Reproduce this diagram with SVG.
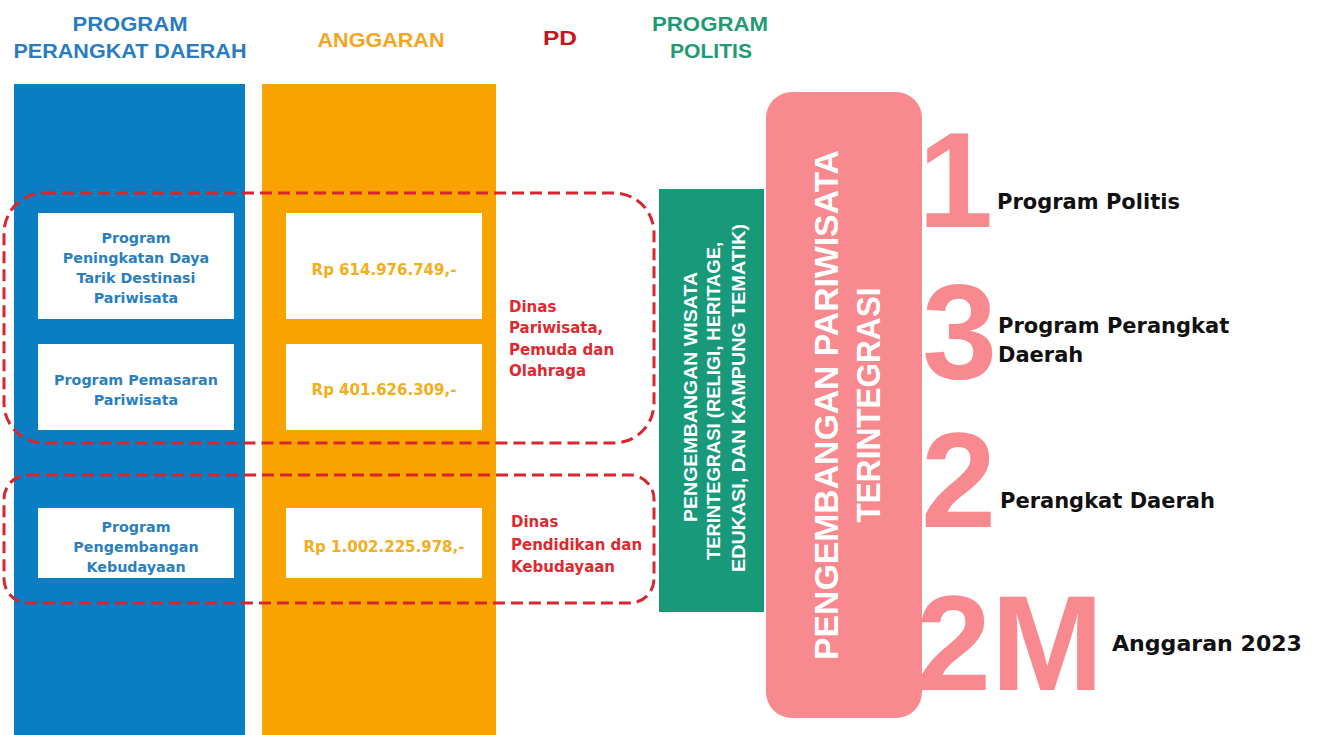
<svg xmlns="http://www.w3.org/2000/svg" width="1317" height="735" viewBox="0 0 1317 735">
<style>
.hdr{font-family:"Liberation Sans",Arial,sans-serif;font-weight:bold;font-size:20px;text-anchor:middle}
.box{fill:#ffffff}
.bt{font-family:"DejaVu Sans","Liberation Sans",sans-serif;font-weight:bold;font-size:14.3px;fill:#2b7fc1;text-anchor:middle}
.ot{font-family:"DejaVu Sans","Liberation Sans",sans-serif;font-weight:bold;font-size:15px;fill:#f2ae1c;text-anchor:middle}
.rt{font-family:"DejaVu Sans","Liberation Sans",sans-serif;font-weight:bold;font-size:15px;fill:#e0282f}
.gt{font-family:"Liberation Sans",Arial,sans-serif;font-weight:bold;font-size:19px;fill:#ffffff;text-anchor:middle}
.pt{font-family:"Liberation Sans",Arial,sans-serif;font-weight:bold;font-size:33px;fill:#ffffff;text-anchor:middle}
.num{font-family:"Liberation Sans",Arial,sans-serif;font-weight:bold;font-size:135px;fill:#f8898f}
.lbl{font-family:"DejaVu Sans","Liberation Sans",sans-serif;font-weight:bold;font-size:21px;fill:#111111}
.dash{fill:none;stroke:#d9262e;stroke-width:3;stroke-dasharray:12 6}
</style>
<rect width="1317" height="735" fill="#ffffff"/>

<g id="headers">
<text class="hdr" x="130" y="31" fill="#2a7bbf" textLength="115" lengthAdjust="spacingAndGlyphs">PROGRAM</text>
<text class="hdr" x="130" y="58" fill="#2a7bbf" textLength="233" lengthAdjust="spacingAndGlyphs">PERANGKAT DAERAH</text>
<text class="hdr" x="381" y="47" fill="#f7a51e" textLength="127" lengthAdjust="spacingAndGlyphs">ANGGARAN</text>
<text class="hdr" x="560" y="45" fill="#c4161c" textLength="34" lengthAdjust="spacingAndGlyphs">PD</text>
<text class="hdr" x="710" y="31" fill="#1f9a73" textLength="116" lengthAdjust="spacingAndGlyphs">PROGRAM</text>
<text class="hdr" x="711" y="58" fill="#1f9a73" textLength="82" lengthAdjust="spacingAndGlyphs">POLITIS</text>
</g>

<g id="col-program">
<rect x="14" y="84" width="231" height="651" fill="#0b7dc3"/>
</g>
<g id="col-anggaran">
<rect x="262" y="84" width="234" height="651" fill="#f9a300"/>
</g>

<g id="prog-1">
<rect class="box" x="38" y="213" width="196" height="106"/>
<text class="bt" x="136" y="243">Program</text>
<text class="bt" x="136" y="263">Peningkatan Daya</text>
<text class="bt" x="136" y="283">Tarik Destinasi</text>
<text class="bt" x="136" y="303">Pariwisata</text>
</g>
<g id="prog-2">
<rect class="box" x="38" y="344" width="196" height="86"/>
<text class="bt" x="136" y="385">Program Pemasaran</text>
<text class="bt" x="136" y="405">Pariwisata</text>
</g>
<g id="prog-3">
<rect class="box" x="38" y="508" width="196" height="70"/>
<text class="bt" x="136" y="532">Program</text>
<text class="bt" x="136" y="552">Pengembangan</text>
<text class="bt" x="136" y="572">Kebudayaan</text>
</g>

<g id="budget-1">
<rect class="box" x="286" y="213" width="196" height="106"/>
<text class="ot" x="384" y="275">Rp 614.976.749,-</text>
</g>
<g id="budget-2">
<rect class="box" x="286" y="344" width="196" height="86"/>
<text class="ot" x="384" y="395">Rp 401.626.309,-</text>
</g>
<g id="budget-3">
<rect class="box" x="286" y="508" width="196" height="70"/>
<text class="ot" x="384" y="552">Rp 1.002.225.978,-</text>
</g>

<g id="pd-1">
<text class="rt" x="509" y="312">Dinas</text>
<text class="rt" x="509" y="333">Pariwisata,</text>
<text class="rt" x="509" y="355">Pemuda dan</text>
<text class="rt" x="509" y="376">Olahraga</text>
</g>
<g id="pd-2">
<text class="rt" x="511" y="527">Dinas</text>
<text class="rt" x="511" y="550">Pendidikan dan</text>
<text class="rt" x="511" y="572">Kebudayaan</text>
</g>

<g id="connectors">
<rect class="dash" x="4" y="193" width="650" height="250" rx="40" ry="40"/>
<rect class="dash" x="4" y="475" width="650" height="128" rx="24" ry="24"/>
</g>

<g id="program-politis">
<rect x="659" y="189" width="105" height="423" fill="#18997a"/>
<text class="gt" transform="translate(697,397) rotate(-90)" textLength="250" lengthAdjust="spacingAndGlyphs">PENGEMBANGAN WISATA</text>
<text class="gt" transform="translate(720,401) rotate(-90)" textLength="318" lengthAdjust="spacingAndGlyphs">TERINTEGRASI (RELIGI, HERITAGE,</text>
<text class="gt" transform="translate(745,398) rotate(-90)" textLength="348" lengthAdjust="spacingAndGlyphs">EDUKASI, DAN KAMPUNG TEMATIK)</text>
</g>

<g id="summary">
<text class="num" x="918" y="227">1</text>
<text class="num" x="922" y="378">3</text>
<text class="num" x="921" y="527">2</text>
<text class="num" x="916" y="690">2M</text>
<rect x="766" y="92" width="156" height="626" rx="26" ry="26" fill="#f8898f"/>
<text class="pt" transform="translate(838,405) rotate(-90)" textLength="510" lengthAdjust="spacingAndGlyphs">PENGEMBANGAN PARIWISATA</text>
<text class="pt" transform="translate(880,405) rotate(-90)" textLength="235" lengthAdjust="spacingAndGlyphs">TERINTEGRASI</text>
</g>

<g id="labels">
<text class="lbl" x="997" y="209">Program Politis</text>
<text class="lbl" x="998" y="333">Program Perangkat</text>
<text class="lbl" x="998" y="362">Daerah</text>
<text class="lbl" x="1000" y="508">Perangkat Daerah</text>
<text class="lbl" x="1112" y="651" textLength="190" lengthAdjust="spacingAndGlyphs">Anggaran 2023</text>
</g>
</svg>
